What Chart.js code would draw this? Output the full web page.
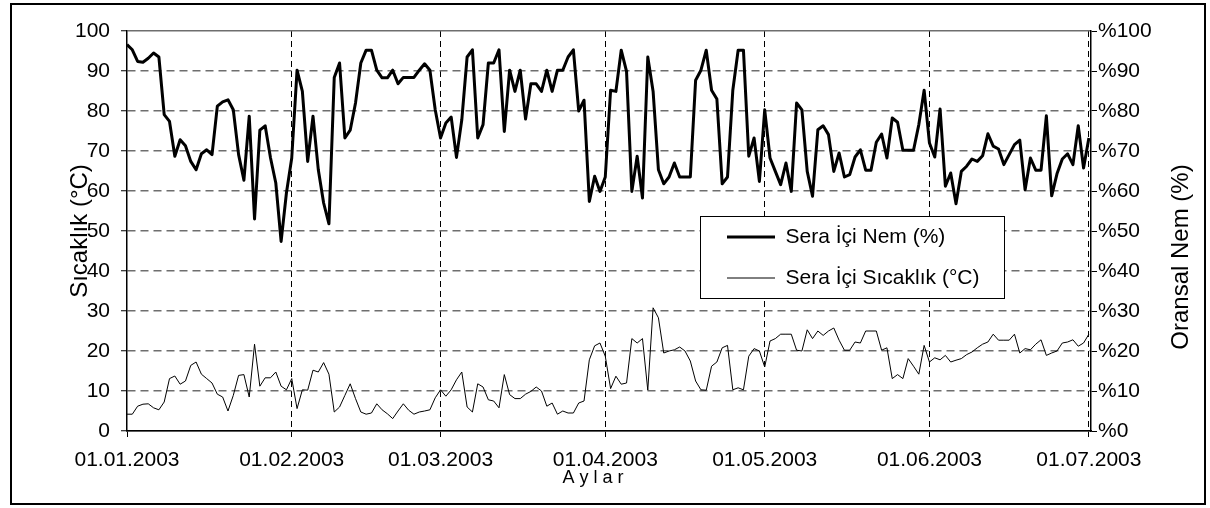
<!DOCTYPE html>
<html>
<head>
<meta charset="utf-8">
<script src="https://cdn.jsdelivr.net/npm/chart.js@4.4.1/dist/chart.umd.min.js"></script>
<style>
  html, body { margin: 0; padding: 0; background: #fff; }
  #wrap { width: 1210px; height: 508px; }
</style>
</head>
<body>
<div id="wrap"><canvas id="chart" width="1210" height="508"></canvas></div>
<script>
// x axis: day number counted from 01.01.2003
const monthStarts = [0, 31, 59, 90, 120, 151, 181];
const tickLabels = ['01.01.2003', '01.02.2003', '01.03.2003', '01.04.2003', '01.05.2003', '01.06.2003', '01.07.2003'];

// Sera İçi Nem (%) - one value per day
const humidity = [
  96.6, 95.3, 92.4, 92.2, 93.2, 94.5, 93.5, 79.1, 77.4, 68.7, 72.8, 71.3, 67.4, 65.3, 69.3, 70.3, 69.1, 81.2, 82.3, 82.8,
  80.3, 69.1, 62.7, 78.7, 53, 75.2, 76.3, 68.3, 62,
  47.4, 59.5, 68.25, 90.2, 84.9, 67.4, 78.7, 65.3, 57, 51.8, 88.4, 92, 73.25, 75.2, 82, 92, 95.2, 95.2, 90.2, 88.3,
  88.3, 90.2, 86.8, 88.4, 88.4, 88.4, 90.2, 91.8, 90.2,
  80.3, 73.25, 77, 78.5, 68.4, 77.8, 93.5, 95.3, 73.25, 76.6, 92, 92, 95.3, 74.9, 90.2, 84.9, 90.2, 78, 86.8, 86.8,
  84.9, 90.2, 84.9, 90.2, 90.2, 93.5, 95.3, 80, 82.7, 57.4, 63.7,
  59.9, 63.5, 85.2, 84.9, 95.2, 89.9, 59.9, 68.7, 58.25, 93.5, 84.9, 65.3, 61.8, 63.5, 67, 63.5, 63.5, 63.5, 87.7, 90.2,
  95.2, 85.2, 83, 61.8, 63.5, 85.2, 95.2, 95.2, 68.7, 73.25, 62.4, 80.3,
  68.25, 64.9, 61.6, 67, 59.9, 82, 80.3, 64.9, 58.7, 75.3, 76.3, 74.1, 64.9, 69.5, 63.5, 64.1, 68.5, 70.3, 65.2, 65.2,
  72.2, 74.25, 68.25, 78.25, 77.2, 70.2, 70.2, 70.2, 76.6, 85.2,
  72, 68.5, 80.5, 61.2, 64.5, 56.8, 64.9, 66.2, 68, 67.4, 68.8, 74.3, 71.2, 70.5, 66.6, 69.1, 71.6, 72.7, 60.3, 68.25,
  65.2, 65.2, 78.8, 58.8, 64.3, 68, 69.3, 66.6, 76.3, 65.75, 73.25
];

// Sera İçi Sıcaklık (°C)
const temperature = [
  4.2, 4.2, 6.2, 6.7, 6.8, 5.8, 5.3, 7.25, 13.1, 13.75, 11.7, 12.5, 16.4, 17.25, 14.2, 13.1, 12, 9.2, 8.5, 5,
  8.9, 13.9, 14.1, 8.5, 21.7, 11.2, 13.3, 13.3, 14.75, 11.2, 10.3, 13.1, 5.6, 10.3, 10.2, 15.2, 14.75, 17.1, 14.2, 4.75,
  6, 8.9, 11.8, 8.1, 4.75, 4.2,
  4.5, 6.8, 5.3, 4.3, 3.1, 5, 6.8, 5.2, 4.2, 4.75, 5, 5.3, 8.3, 10.3, 8.7, 10.3, 12.8, 14.75, 6, 4.75,
  11.8, 11, 7.8, 7.5, 5.8, 14.1, 9.1, 8.1, 8.1, 9.2, 9.9, 11, 10, 6.2, 7, 4.2, 5, 4.5, 4.5, 7,
  7.5, 17.8, 21.3, 22, 18.7,
  10.6, 13.7, 11.7, 12, 23.1, 22, 23.1, 10.2, 30.8, 28.3, 19.5, 20, 20.3, 21, 20, 17.5, 12.5, 10.3, 10.2, 16.2,
  17.25, 20.8, 21.4, 10.3, 10.8, 10.3, 18.7, 20.6, 20, 16, 22.5, 23.1, 24.2, 24.2, 24.2, 20.2, 20, 25.3, 23.1, 25,
  23.9, 25, 25.75, 22.7, 20.2,
  20.2, 22.25, 22, 25, 25, 25, 20.2, 20.8, 13.1, 14.1, 13.1, 18.1, 16.2, 14.2, 21.4, 17.25, 18.3, 17.8, 18.9, 17.25,
  17.7, 18.1, 19.1, 19.75, 20.8, 21.7, 22.25, 24.2, 22.7, 22.7, 22.7, 24.2, 19.5, 20.6, 20.3, 21.7, 22.8, 18.9, 19.5, 20,
  22, 22.25, 22.8, 21.2, 22, 24.2
];

const FONT = '"Liberation Sans", Arial, sans-serif';
Chart.defaults.font.family = FONT;
Chart.defaults.font.size = 21;
Chart.defaults.color = '#000';

// white page, outer frame, legend frame and the two titles Chart.js can't place like the original
const decor = {
  id: 'decor',
  beforeDraw(chart) {
    const ctx = chart.ctx;
    ctx.save();
    ctx.fillStyle = '#fff';
    ctx.fillRect(0, 0, chart.width, chart.height);
    ctx.strokeStyle = '#000';
    ctx.lineWidth = 2;
    ctx.strokeRect(11, 4, 1194, 500);
    ctx.restore();
  },
  afterLayout(chart) {
    // move the legend into the plot, like the boxed legend of the original
    const lg = chart.legend;
    lg.left = 707;
    lg.top = 206.5;
    lg.right = lg.left + lg.width;
    lg.bottom = lg.top + lg.height;
  },
  afterDraw(chart) {
    const ctx = chart.ctx;
    const area = chart.chartArea;
    ctx.save();
    ctx.fillStyle = '#fff';
    ctx.fillRect(700.5, 216.5, 304, 82);
    ctx.strokeStyle = '#000';
    ctx.lineWidth = 1;
    ctx.strokeRect(700.5, 216.5, 304, 82);
    ctx.restore();
    chart.legend.draw();

    // right axis title reads bottom-to-top, same as the left one
    ctx.save();
    ctx.fillStyle = '#000';
    ctx.textAlign = 'center';
    ctx.textBaseline = 'middle';
    ctx.font = '24px ' + FONT;
    ctx.translate(1181, (area.top + area.bottom) / 2 + 26);
    ctx.rotate(-Math.PI / 2);
    ctx.fillText('Oransal Nem (%)', 0, 0);
    ctx.restore();

    ctx.save();
    ctx.fillStyle = '#000';
    ctx.textAlign = 'center';
    ctx.textBaseline = 'middle';
    ctx.font = '18px ' + FONT;
    ctx.fillText('A y l a r', 593, 478);
    ctx.restore();
  }
};

new Chart(document.getElementById('chart'), {
  type: 'line',
  data: {
    datasets: [
      {
        label: 'Sera İçi Nem (%)',
        data: humidity.map((v, i) => ({ x: i, y: v })),
        yAxisID: 'y1',
        borderColor: '#000',
        borderWidth: 3,
        borderJoinStyle: 'round',
        pointRadius: 0,
        tension: 0
      },
      {
        label: 'Sera İçi Sıcaklık (°C)',
        data: temperature.map((v, i) => ({ x: i, y: v })),
        yAxisID: 'y',
        borderColor: '#000',
        borderWidth: 1,
        borderJoinStyle: 'round',
        pointRadius: 0,
        tension: 0
      }
    ]
  },
  options: {
    responsive: false,
    animation: false,
    layout: { padding: { top: 31, left: 0, right: 0, bottom: 0 } },
    plugins: {
      tooltip: { enabled: false },
      legend: {
        position: 'chartArea',
        align: 'start',
        labels: {
          usePointStyle: true,
          pointStyle: 'line',
          pointStyleWidth: 48,
          boxHeight: 21,
          padding: 20,
          color: '#000',
          font: { size: 21 }
        }
      }
    },
    scales: {
      x: {
        type: 'linear',
        min: 0,
        max: 181.4,
        afterBuildTicks: s => { s.ticks = monthStarts.map(v => ({ value: v })); },
        afterFit: s => { s.height = 77; },
        ticks: {
          autoSkip: false,
          maxRotation: 0,
          padding: 11,
          callback: (v, i) => tickLabels[i]
        },
        grid: {
          // no dashed line over the left axis
          color: ctx => ctx.tick && ctx.tick.value === 0 ? 'rgba(0,0,0,0)' : '#000',
          lineWidth: 1,
          tickLength: 6,
          tickColor: '#000'
        },
        border: { color: '#000', width: 1.5, dash: ctx => ctx.type === 'tick' ? [6, 4] : [] }
      },
      y: {
        position: 'left',
        min: 0,
        max: 100,
        afterFit: s => { s.width = 127; },
        ticks: { stepSize: 10, padding: 11 },
        grid: { color: '#6e6e6e', lineWidth: 1.5, tickLength: 6, tickColor: '#000', tickWidth: 1 },
        border: {
          color: '#000',
          width: 1.5,
          dash: ctx => (ctx.type === 'tick' && ctx.tick.value !== 100 && ctx.tick.value !== 0) ? [8, 5] : []
        },
        title: { display: true, text: 'Sıcaklık (°C)', font: { size: 24 }, padding: { top: 66, bottom: 0 } }
      },
      y1: {
        position: 'right',
        min: 0,
        max: 100,
        afterFit: s => { s.width = 119; },
        ticks: { stepSize: 10, padding: 1, callback: v => '%' + v },
        grid: { drawOnChartArea: false, tickLength: 6, tickColor: '#000' },
        border: { color: '#000', width: 1.5 }
      }
    }
  },
  plugins: [decor]
});
</script>
</body>
</html>
